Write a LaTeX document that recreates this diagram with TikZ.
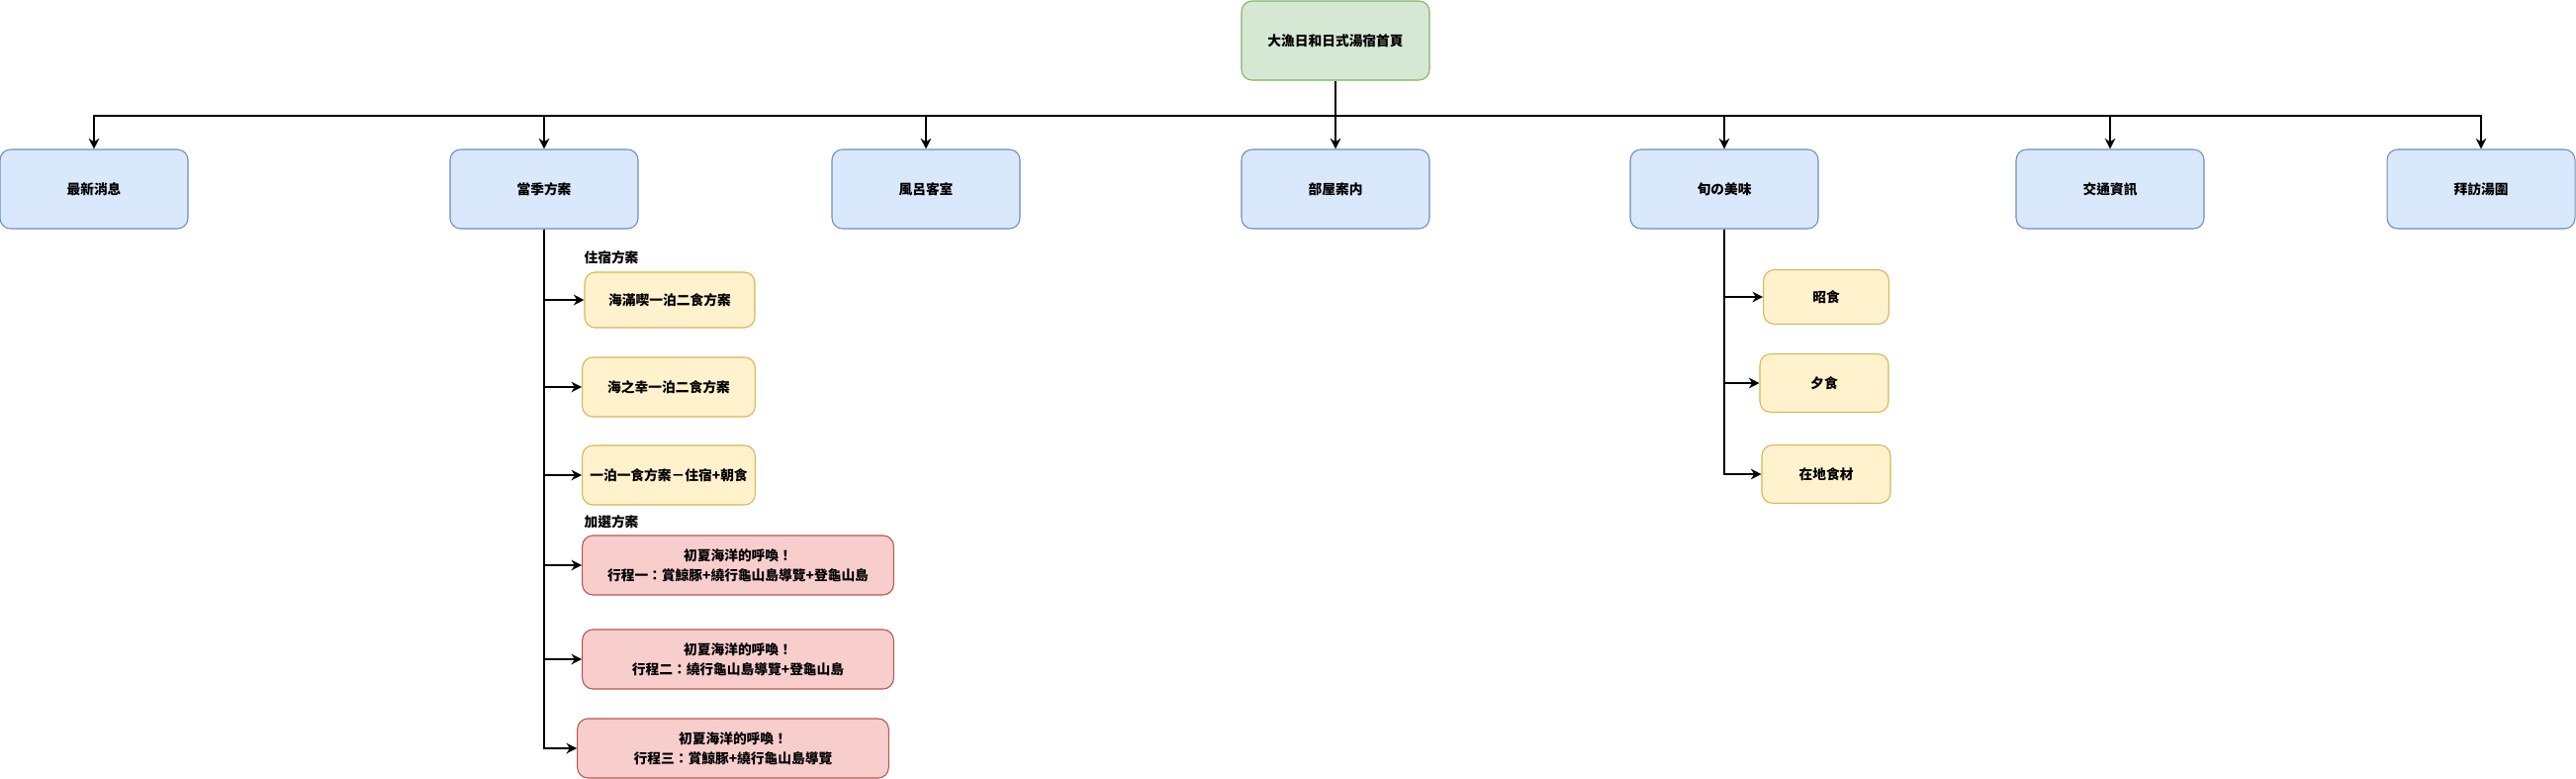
\documentclass[tikz,border=0pt]{standalone}
\usepackage{fontspec}
\setmainfont{Noto Sans CJK TC}
\usepackage{tikz}
\usetikzlibrary{arrows.meta}
\definecolor{bluefill}{HTML}{DAE8FC}
\definecolor{bluedraw}{HTML}{6C8EBF}
\definecolor{greenfill}{HTML}{D5E8D4}
\definecolor{greendraw}{HTML}{82B366}
\definecolor{yellowfill}{HTML}{FFF2CC}
\definecolor{yellowdraw}{HTML}{D6B656}
\definecolor{redfill}{HTML}{F8CECC}
\definecolor{reddraw}{HTML}{B85450}
\tikzset{
  box/.style={draw, rounded corners=8pt, line width=0.8pt, align=center,
    inner sep=0pt, font=\fontsize{10.3}{15}\selectfont\bfseries},
  topbox/.style={box, fill=greenfill, draw=greendraw, minimum width=142.5pt, minimum height=60pt},
  mainbox/.style={box, fill=bluefill, draw=bluedraw, minimum width=142.5pt, minimum height=60pt},
  subbox/.style={box, fill=yellowfill, draw=yellowdraw, minimum width=131pt, minimum height=45pt},
  foodbox/.style={box, fill=yellowfill, draw=yellowdraw, minimum width=97.5pt, minimum height=44pt},
  tourbox/.style={box, fill=redfill, draw=reddraw, minimum width=236pt, minimum height=45pt},
  grouplabel/.style={font=\fontsize{10.3}{15}\selectfont\bfseries, inner sep=0pt},
  arr/.style={-{Stealth[length=8pt,width=8pt]}, line width=1.4pt}
}
\begin{document}
\begin{tikzpicture}[x=0.75pt,y=-0.75pt]
	\useasboundingbox (0,0) rectangle (2604,786);
	\node[topbox] (home) at (1350,41) {大漁日和日式湯宿首頁};
	\node[mainbox] (news) at (95,191) {最新消息};
	\node[mainbox] (plans) at (550,191) {當季方案};
	\node[mainbox] (bath) at (936,191) {風呂客室};
	\node[mainbox] (rooms) at (1350,191) {部屋案内};
	\node[mainbox] (food) at (1743,191) {旬の美味};
	\node[mainbox] (access) at (2133,191) {交通資訊};
	\node[mainbox] (visit) at (2508,191) {拜訪湯圍};
	\coordinate (bus) at (1350,117);
	\draw[arr] (home.south) -- (bus) -| (news.north);
	\draw[arr] (bus) -| (plans.north);
	\draw[arr] (bus) -| (bath.north);
	\draw[arr] (bus) -- (rooms.north);
	\draw[arr] (bus) -| (food.north);
	\draw[arr] (bus) -| (access.north);
	\draw[arr] (bus) -| (visit.north);
	% 當季方案
	\node[grouplabel] (staylabel) at (618,260) {住宿方案};
	\node[subbox, minimum width=129pt, minimum height=42pt] (stay1) at (677,303) {海滿喫一泊二食方案};
	\node[subbox] (stay2) at (676,391) {海之幸一泊二食方案};
	\node[subbox] (stay3) at (676,480) {一泊一食方案－住宿+朝食};
	\node[grouplabel] (extralabel) at (618,527) {加選方案};
	\node[tourbox] (tour1) at (746,571) {初夏海洋的呼喚！\\行程一：賞鯨豚+繞行龜山島導覽+登龜山島};
	\node[tourbox] (tour2) at (746,666) {初夏海洋的呼喚！\\行程二：繞行龜山島導覽+登龜山島};
	\node[tourbox] (tour3) at (741,756) {初夏海洋的呼喚！\\行程三：賞鯨豚+繞行龜山島導覽};
	\foreach \n in {stay1,stay2,stay3,tour1,tour2,tour3}
		\draw[arr] (plans.south) |- (\n.west);
	% 旬の美味
	\node[foodbox, minimum width=95pt, minimum height=41pt] (lunch) at (1846,300) {昭食};
	\node[foodbox] (dinner) at (1844,387) {夕食};
	\node[foodbox] (local) at (1846,479) {在地食材};
	\foreach \n in {lunch,dinner,local}
		\draw[arr] (food.south) |- (\n.west);
\end{tikzpicture}
\end{document}
